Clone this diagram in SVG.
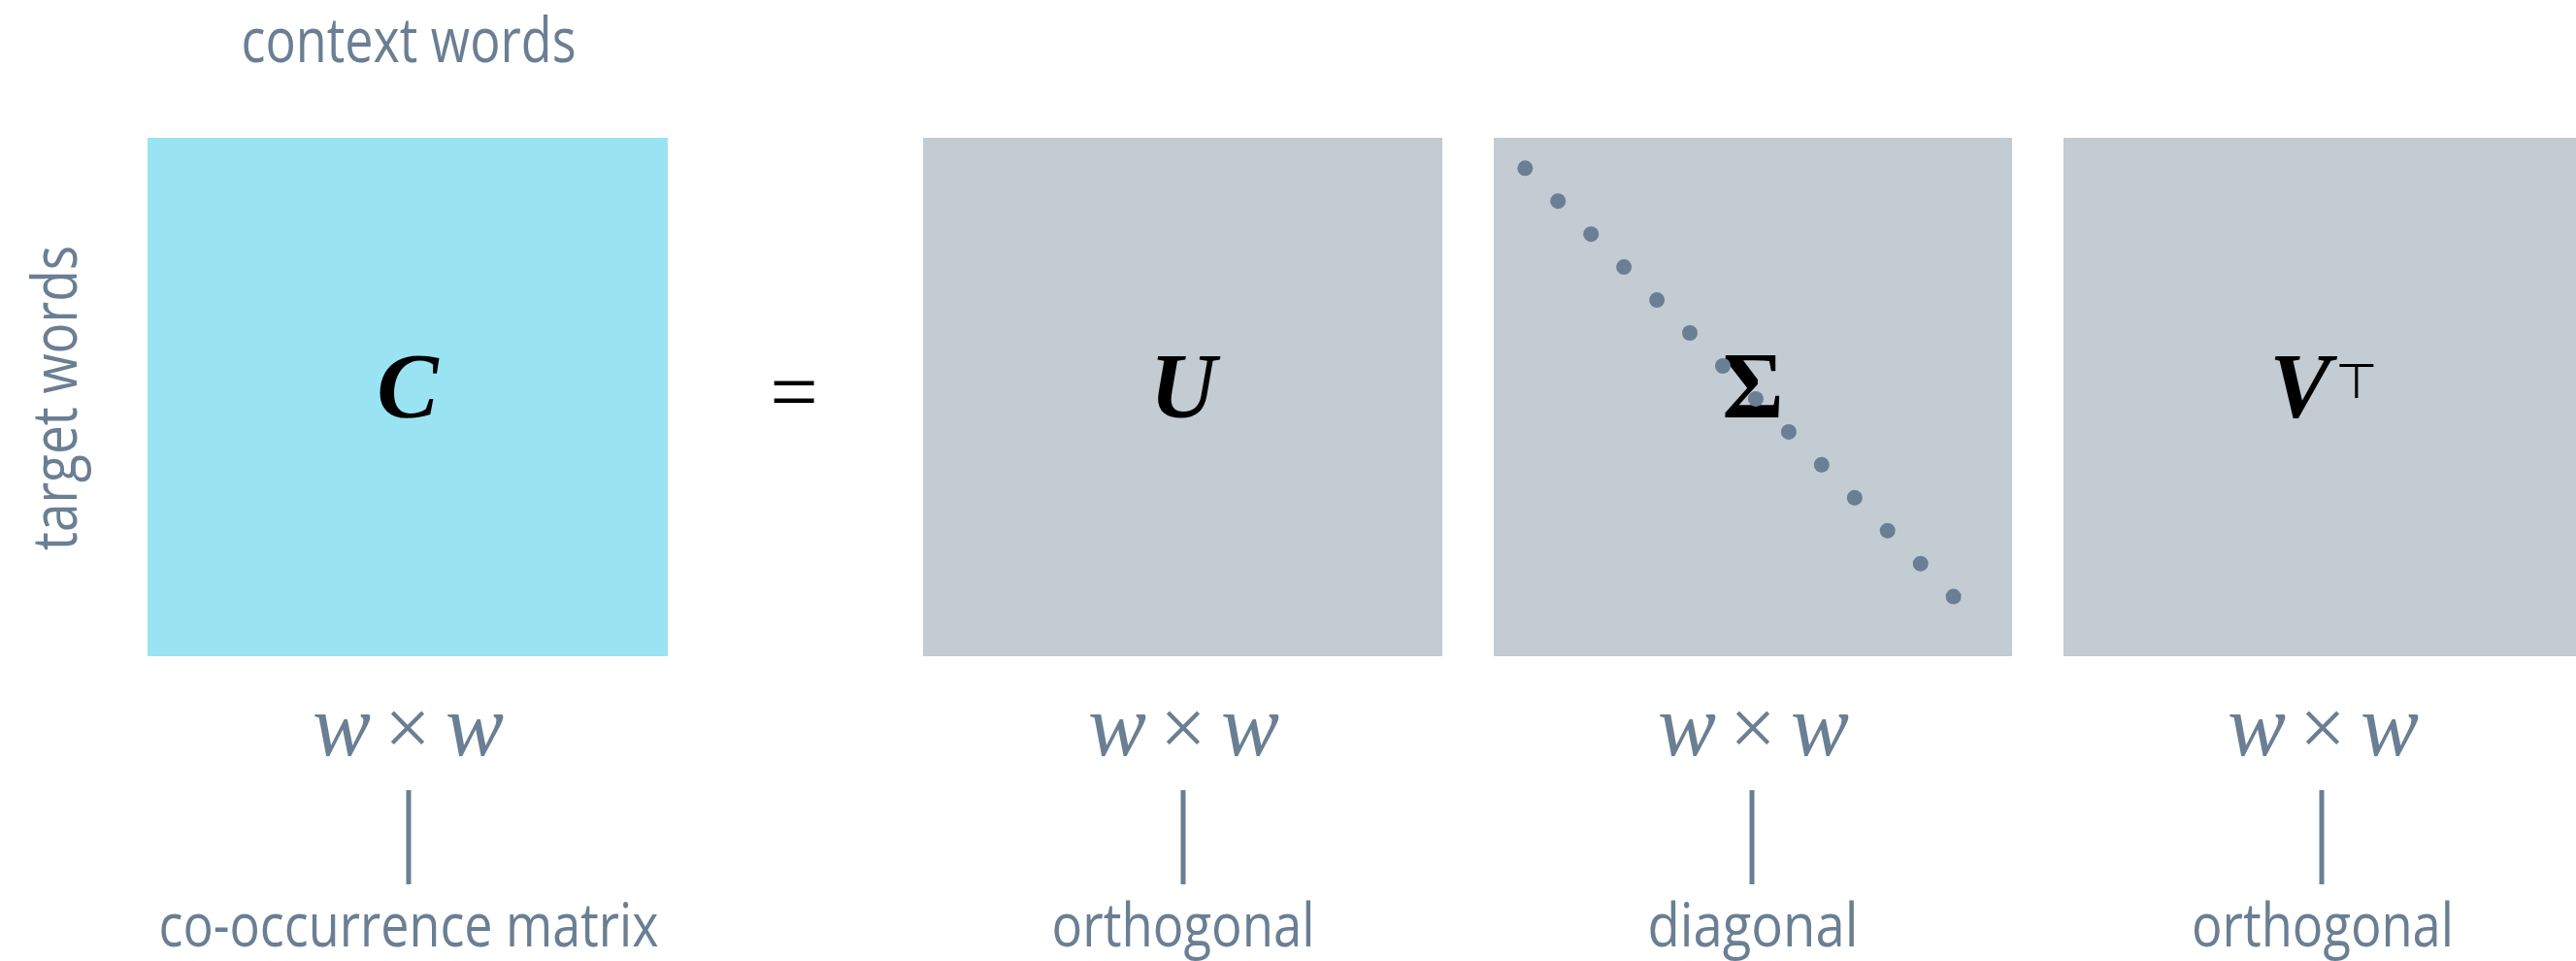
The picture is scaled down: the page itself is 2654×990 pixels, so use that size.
<svg xmlns="http://www.w3.org/2000/svg" width="2654" height="990" viewBox="0 0 2654 990">
<style>
.lbl{font-family:"Open Sans","Liberation Sans",sans-serif;font-size:64px;fill:#6a7f93;text-anchor:middle}
.bot{font-size:62px}
.dim{font-family:"Liberation Serif",serif;font-size:90px;fill:#6a7f93;text-anchor:middle}
.dim .v{font-style:italic}
.dim .x{font-size:84px}
.sym{font-family:"Liberation Serif",serif;font-size:95px;font-weight:bold;font-style:italic;fill:#000;text-anchor:middle}
.grey{fill:#c3cbd3}
.dot{fill:#6a7f93}
.tick{stroke:#6a7f93;stroke-width:5;fill:none}
</style>
<rect width="2654" height="990" fill="#ffffff"/>
<text class="lbl" x="421" y="64" textLength="345" lengthAdjust="spacingAndGlyphs">context words</text>
<text class="lbl" transform="translate(79,410) rotate(-90)" x="0" y="0" textLength="314" lengthAdjust="spacingAndGlyphs">target words</text>

<g id="C">
<rect x="152" y="142" width="536" height="534" fill="#9ae3f3"/>
<text class="sym" x="420" y="430">C</text>
<text class="dim" y="778"><tspan class="v" x="352">w</tspan><tspan class="x" x="420">×</tspan><tspan class="v" x="489">w</tspan></text>
<text class="lbl bot" x="421" y="975" textLength="515" lengthAdjust="spacingAndGlyphs">co-occurrence matrix</text>
</g>

<g id="eq">
<text x="818" y="433" style="font-family:'Liberation Serif',serif;font-size:88px;fill:#000;text-anchor:middle">=</text>
</g>

<g id="U">
<rect class="grey" x="951" y="142" width="535" height="534"/>
<text class="sym" x="1219" y="430">U</text>
<text class="dim" y="778"><tspan class="v" x="1151">w</tspan><tspan class="x" x="1219">×</tspan><tspan class="v" x="1288">w</tspan></text>
<text class="lbl bot" x="1219" y="975" textLength="271" lengthAdjust="spacingAndGlyphs">orthogonal</text>
</g>

<g id="Sigma">
<rect class="grey" x="1539" y="142" width="534" height="534"/>
<text x="1806" y="430" style="font-family:'Liberation Serif',serif;font-size:97px;font-weight:bold;fill:#000;text-anchor:middle">Σ</text>
<g class="dot">
<circle cx="1571.3" cy="173.3" r="8"/>
<circle cx="1605.2" cy="207.2" r="8"/>
<circle cx="1639.2" cy="241.2" r="8"/>
<circle cx="1673.1" cy="275.1" r="8"/>
<circle cx="1707.1" cy="309.1" r="8"/>
<circle cx="1741.0" cy="343.0" r="8"/>
<circle cx="1775.0" cy="377.0" r="8"/>
<circle cx="1808.9" cy="410.9" r="8"/>
<circle cx="1842.9" cy="444.9" r="8"/>
<circle cx="1876.8" cy="478.8" r="8"/>
<circle cx="1910.8" cy="512.8" r="8"/>
<circle cx="1944.7" cy="546.7" r="8"/>
<circle cx="1978.7" cy="580.7" r="8"/>
<circle cx="2012.6" cy="614.6" r="8"/>
</g>
<text class="dim" y="778"><tspan class="v" x="1738">w</tspan><tspan class="x" x="1806">×</tspan><tspan class="v" x="1875">w</tspan></text>
<text class="lbl bot" x="1806" y="975" textLength="217" lengthAdjust="spacingAndGlyphs">diagonal</text>
</g>

<g id="VT">
<rect class="grey" x="2126" y="142" width="534" height="534"/>
<text class="sym" x="2370" y="430">V</text>
<text x="2428" y="410" style="font-family:'DejaVu Sans',sans-serif;font-size:50px;fill:#000;text-anchor:middle">⊤</text>
<text class="dim" y="778"><tspan class="v" x="2325">w</tspan><tspan class="x" x="2393">×</tspan><tspan class="v" x="2462">w</tspan></text>
<text class="lbl bot" x="2393" y="975" textLength="270" lengthAdjust="spacingAndGlyphs">orthogonal</text>
</g>

<g id="connectors">
<line class="tick" x1="421" y1="814" x2="421" y2="911"/>
<line class="tick" x1="1219" y1="814" x2="1219" y2="911"/>
<line class="tick" x1="1805" y1="814" x2="1805" y2="911"/>
<line class="tick" x1="2392" y1="814" x2="2392" y2="911"/>
</g>
</svg>
